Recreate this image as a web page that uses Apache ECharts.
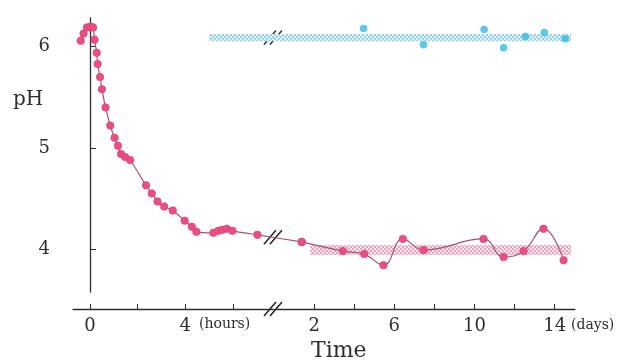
<!DOCTYPE html>
<html>
<head>
<meta charset="utf-8">
<script src="https://cdn.jsdelivr.net/npm/echarts@6/dist/echarts.min.js"></script>
<style>
  html, body { margin: 0; padding: 0; background: #fff; }
  #chart { width: 633px; height: 364px; }
</style>
</head>
<body>
<div id="chart"></div>
<script>
// early phase: hours after start and pH
const hourTimes = [-0.39, -0.27, -0.13, 0.02, 0.13, 0.19, 0.28, 0.32, 0.42, 0.50, 0.65, 0.85, 1.03, 1.17, 1.30, 1.47, 1.68,
  2.35, 2.59, 2.83, 3.11, 3.47, 3.97, 4.27, 4.46, 5.17, 5.38, 5.55, 5.74, 5.97, 7.02];
const hourPH = [6.06, 6.13, 6.19, 6.20, 6.19, 6.07, 5.94, 5.83, 5.70, 5.58, 5.40, 5.22, 5.10, 5.02, 4.94, 4.91, 4.88,
  4.63, 4.55, 4.47, 4.42, 4.38, 4.28, 4.22, 4.17, 4.16, 4.18, 4.19, 4.20, 4.18, 4.14];

// late phase: days and pH
const dayTimes = [1.38, 3.43, 4.49, 5.45, 6.42, 7.45, 10.44, 11.44, 12.44, 13.43, 14.43];
const dayPH = [4.07, 3.98, 3.95, 3.84, 4.10, 3.99, 4.10, 3.92, 3.98, 4.20, 3.89];

// blue points (days)
const blueTimes = [4.46, 7.45, 10.47, 11.44, 12.53, 13.47, 14.51];
const bluePH = [6.18, 6.02, 6.17, 5.99, 6.10, 6.14, 6.08];

// shaded bands
const blueBandPH = [6.055, 6.125];
const blueBandStartHours = 5.0;
const blueBandEndDays = 14.8;
const pinkBandPH = [3.94, 4.04];
const pinkBandDays = [1.8, 14.8];

// ticks / labels
const yTicks = [4, 5, 6];
const hourTicks = [0, 2, 4, 6];
const hourLabels = [0, 4, 5.65]; // 5.65 carries "(hours)"
const dayTicks = [2, 4, 6, 8, 10, 12, 14];
const dayLabels = [2, 6, 10, 14];

// the broken axis: hours on the left, days on the right
const HOUR_PX = 23.83;
const DAY_PX = 20.05;
const DAY0 = 7.72; // day 0 sits just after the break, in hour units
const fromDays = d => DAY0 + d * DAY_PX / HOUR_PX;

const FONT = 'DejaVu Serif';
const INK = '#2e2e2e';
const PINK = '#ef4c84';
const PINK_LINE = '#a9506f';

function hatch(c1, c2) {
  const cv = document.createElement('canvas');
  cv.width = cv.height = 4;
  const g = cv.getContext('2d');
  g.fillStyle = c2;
  g.fillRect(0, 0, 4, 4);
  g.fillStyle = c1;
  g.fillRect(0, 0, 2, 2);
  g.fillRect(2, 2, 2, 2);
  return { image: cv, repeat: 'repeat' };
}

const dayData = dayTimes.map((d, i) => [fromDays(d), dayPH[i]]);
const hourData = hourTimes.map((h, i) => [h, hourPH[i]]).concat([dayData[0]]);
const blueData = blueTimes.map((d, i) => [fromDays(d), bluePH[i]]);

const chart = echarts.init(document.getElementById('chart'), null, { renderer: 'canvas' });

const dotStyle = { color: PINK, borderColor: '#d23f6c', borderWidth: 0.6 };

const option = {
  animation: false,
  grid: [
    { left: 56, top: 18, width: 519, height: 274 },
    { left: 73, top: 300, width: 200, height: 9 },
    { left: 274, top: 300, width: 301, height: 9 }
  ],
  xAxis: [
    { gridIndex: 0, type: 'value', min: -1.4268, max: fromDays(15), show: false },
    {
      gridIndex: 1, type: 'value', min: -0.713, max: 7.68,
      axisLine: { lineStyle: { color: INK, width: 1.3 } },
      axisTick: { inside: true, length: 5, customValues: hourTicks, lineStyle: { color: INK } },
      axisLabel: {
        customValues: hourLabels, margin: 8, color: INK, fontFamily: FONT, fontSize: 18,
        formatter: v => (v === 5.65 ? '{u|(hours)}' : String(v)),
        rich: { u: { fontFamily: FONT, fontSize: 14, color: INK } }
      },
      splitLine: { show: false }
    },
    {
      gridIndex: 2, type: 'value', min: 0, max: 15.01,
      axisLine: { lineStyle: { color: INK, width: 1.3 } },
      axisTick: { inside: true, length: 5, customValues: dayTicks, lineStyle: { color: INK } },
      axisLabel: { customValues: dayLabels, margin: 8, color: INK, fontFamily: FONT, fontSize: 18 },
      splitLine: { show: false },
      name: '(days)',
      nameLocation: 'end',
      nameGap: -4,
      nameTextStyle: { fontFamily: FONT, fontSize: 14, color: INK, verticalAlign: 'top', padding: [9, 0, 0, 0] }
    }
  ],
  yAxis: [
    {
      gridIndex: 0, type: 'value', min: 3.575, max: 6.284,
      axisLine: { show: true, lineStyle: { color: INK, width: 1.3 } },
      axisTick: { show: true, inside: true, length: 6, customValues: yTicks, lineStyle: { color: INK } },
      axisLabel: { customValues: yTicks, margin: 6, color: INK, fontFamily: FONT, fontSize: 18 },
      splitLine: { show: false }
    },
    { gridIndex: 1, type: 'value', min: 0, max: 1, show: false },
    { gridIndex: 2, type: 'value', min: 0, max: 1, show: false }
  ],
  series: [
    {
      type: 'line',
      xAxisIndex: 0, yAxisIndex: 0,
      data: hourData,
      smooth: 0.2,
      symbol: 'circle',
      symbolSize: 7.5,
      lineStyle: { color: PINK_LINE, width: 1.2 },
      itemStyle: dotStyle,
      z: 3
    },
    {
      type: 'line',
      xAxisIndex: 0, yAxisIndex: 0,
      data: dayData,
      smooth: 0.45,
      symbol: 'circle',
      symbolSize: 7.5,
      lineStyle: { color: PINK_LINE, width: 1.2 },
      itemStyle: dotStyle,
      z: 3,
      markArea: {
        silent: true,
        itemStyle: { color: hatch('#eaa6bc', '#fbe4ec') },
        data: [[
          { xAxis: fromDays(pinkBandDays[0]), yAxis: pinkBandPH[0] },
          { xAxis: fromDays(pinkBandDays[1]), yAxis: pinkBandPH[1] }
        ]]
      }
    },
    {
      type: 'scatter',
      xAxisIndex: 0, yAxisIndex: 0,
      data: blueData,
      symbolSize: 7.5,
      itemStyle: { color: '#30bbe8' },
      z: 3,
      markArea: {
        silent: true,
        itemStyle: { color: hatch('#9ad2e6', '#e0f2f9') },
        data: [[
          { xAxis: blueBandStartHours, yAxis: blueBandPH[0] },
          { xAxis: fromDays(blueBandEndDays), yAxis: blueBandPH[1] }
        ]]
      }
    }
  ]
};

chart.setOption(option);

// break marks "//" on the curve, the blue band and the time axis
function breakMark(x, y) {
  return {
    type: 'group', x: x, y: y, z: 10,
    children: [
      { type: 'line', shape: { x1: -9, y1: 7, x2: 3, y2: -7 }, style: { stroke: '#222', lineWidth: 1.5 } },
      { type: 'line', shape: { x1: -3, y1: 7, x2: 9, y2: -7 }, style: { stroke: '#222', lineWidth: 1.5 } }
    ]
  };
}
const lastH = hourTimes.length - 1;
const uA = hourTimes[lastH], uB = fromDays(dayTimes[0]);
const uBreak = DAY0 - 0.05;
const t = (uBreak - uA) / (uB - uA);
const phBreak = hourPH[lastH] + t * (dayPH[0] - hourPH[lastH]);
const pCurve = chart.convertToPixel({ xAxisIndex: 0, yAxisIndex: 0 }, [uBreak, phBreak]);
const pBand = chart.convertToPixel({ xAxisIndex: 0, yAxisIndex: 0 }, [uBreak, (blueBandPH[0] + blueBandPH[1]) / 2]);
const pAxis = chart.convertToPixel({ xAxisIndex: 1, yAxisIndex: 1 }, [7.68, 0]);

chart.setOption({
  graphic: [
    breakMark(pCurve[0], pCurve[1]),
    breakMark(pBand[0], pBand[1]),
    breakMark(pAxis[0], pAxis[1]),
    {
      type: 'text', left: 13, top: 90,
      style: { text: 'pH', fontFamily: FONT, fontSize: 20, fill: INK }
    },
    {
      type: 'text', left: 311, top: 340,
      style: { text: 'Time', fontFamily: FONT, fontSize: 22, fill: INK }
    }
  ]
});
</script>
</body>
</html>
